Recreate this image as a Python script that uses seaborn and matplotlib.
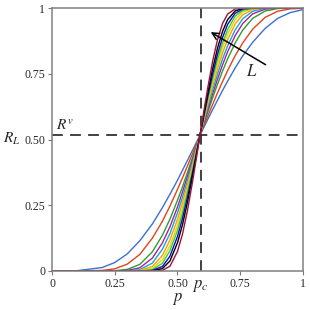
import numpy as np
import pandas as pd
import matplotlib
matplotlib.use("Agg")
import matplotlib.pyplot as plt
import seaborn as sns

# ------------------------------------------------------------
# Data (R_L vs p, one curve per L)
# ------------------------------------------------------------
p = [0.00, 0.10, 0.20, 0.25, 0.30, 0.35, 0.40, 0.44, 0.47, 0.50, 0.52, 0.54, 0.56, 0.575,
     0.59, 0.605, 0.62, 0.64, 0.66, 0.68, 0.70, 0.73, 0.76, 0.80, 0.85, 0.90, 0.95, 1.00]

c1 = [0.000, 0.001, 0.013, 0.032, 0.065, 0.115, 0.179, 0.241, 0.292, 0.345, 0.383, 0.421, 0.459, 0.488,
      0.517, 0.546, 0.575, 0.613, 0.650, 0.687, 0.722, 0.772, 0.818, 0.870, 0.923, 0.961, 0.983, 0.994]
c2 = [0.000, 0.000, 0.002, 0.008, 0.026, 0.063, 0.125, 0.189, 0.247, 0.310, 0.354, 0.400, 0.446, 0.482,
      0.517, 0.552, 0.587, 0.633, 0.678, 0.721, 0.762, 0.819, 0.867, 0.920, 0.965, 0.988, 0.997, 0.999]
c3 = [0, 0, 0, 0.001, 0.006, 0.025, 0.073, 0.136, 0.197, 0.269, 0.320, 0.375, 0.431, 0.474,
      0.517, 0.560, 0.602, 0.658, 0.711, 0.761, 0.807, 0.867, 0.916, 0.961, 0.989, 0.998, 1, 1]
c4 = [0, 0, 0, 0, 0.002, 0.012, 0.049, 0.107, 0.168, 0.243, 0.300, 0.360, 0.422, 0.469,
      0.517, 0.565, 0.611, 0.673, 0.731, 0.785, 0.834, 0.895, 0.941, 0.978, 0.996, 1, 1, 1]
c5 = [0, 0, 0, 0, 0, 0.005, 0.030, 0.083, 0.142, 0.221, 0.280, 0.344, 0.413, 0.464,
      0.517, 0.570, 0.620, 0.688, 0.750, 0.807, 0.856, 0.917, 0.959, 0.988, 0.999, 1, 1, 1]
c6 = [0, 0, 0, 0, 0, 0.002, 0.017, 0.059, 0.118, 0.196, 0.260, 0.329, 0.403, 0.460,
      0.517, 0.575, 0.632, 0.703, 0.770, 0.830, 0.880, 0.939, 0.974, 0.995, 1, 1, 1, 1]
c7 = [0, 0, 0, 0, 0, 0, 0.009, 0.043, 0.095, 0.174, 0.240, 0.314, 0.393, 0.455,
      0.517, 0.579, 0.640, 0.717, 0.788, 0.850, 0.901, 0.955, 0.985, 0.998, 1, 1, 1, 1]
c8 = [0, 0, 0, 0, 0, 0, 0.005, 0.029, 0.077, 0.154, 0.221, 0.299, 0.384, 0.450,
      0.517, 0.584, 0.650, 0.732, 0.806, 0.868, 0.918, 0.969, 0.991, 0.999, 1, 1, 1, 1]
c9 = [0, 0, 0, 0, 0, 0, 0.002, 0.017, 0.056, 0.131, 0.200, 0.282, 0.373, 0.444,
      0.517, 0.589, 0.660, 0.748, 0.826, 0.889, 0.938, 0.980, 0.996, 1, 1, 1, 1, 1]
c10 = [0, 0, 0, 0, 0, 0, 0, 0.009, 0.038, 0.107, 0.176, 0.262, 0.360, 0.438,
       0.517, 0.596, 0.673, 0.768, 0.849, 0.912, 0.956, 0.989, 0.999, 1, 1, 1, 1, 1]
c11 = [0, 0, 0, 0, 0, 0, 0, 0.002, 0.018, 0.074, 0.140, 0.231, 0.339, 0.427,
       0.517, 0.607, 0.693, 0.797, 0.881, 0.942, 0.977, 0.997, 1, 1, 1, 1, 1, 1]

curves = [c1, c2, c3, c4, c5, c6, c7, c8, c9, c10, c11]
colors = ["#3b6fd6", "#e0441c", "#2e9e2e", "#a023a8", "#1aa5d6", "#f5a300",
          "#e8d21a", "#3fcf20", "#0a0ad0", "#000000", "#a0103c"]

p_c = 0.5927
R_nu = 0.517
ticks = [0, 0.25, 0.5, 0.75, 1]
tick_labels = ["0", "0.25", "0.50", "0.75", "1"]

df = pd.concat([pd.DataFrame({"p": p, "R": c, "curve": i}) for i, c in enumerate(curves)],
               ignore_index=True)

# ------------------------------------------------------------
# Figure
# ------------------------------------------------------------
sns.set_style("ticks")
plt.rcParams["font.family"] = ["Liberation Serif", "DejaVu Serif"]
plt.rcParams["mathtext.fontset"] = "stix"

fig = plt.figure(figsize=(3.1, 3.1), dpi=100)
ax = fig.add_axes([0.168, 0.126, 0.809, 0.848])

sns.lineplot(data=df, x="p", y="R", hue="curve", palette=colors, legend=False,
             linewidth=1.0, ax=ax)

ax.axvline(p_c, color="#333333", lw=1.3, ls=(0, (6, 4)), zorder=0)
ax.axhline(R_nu, color="#333333", lw=1.3, ls=(0, (6, 4)), zorder=0)

ax.set_xlim(0, 1)
ax.set_ylim(0, 1)
ax.set_xticks(ticks)
ax.set_xticklabels(tick_labels)
ax.set_yticks(ticks)
ax.set_yticklabels(tick_labels)
ax.tick_params(labelsize=8.5, length=3, width=0.8, color="#777777", pad=2)

for s in ax.spines.values():
    s.set_color("#808080")
    s.set_linewidth(1.1)

ax.set_xlabel(r"$p$", fontsize=12)
ax.xaxis.set_label_coords(0.5, -0.075)
ax.set_ylabel(r"$R_L$", fontsize=11, rotation=0)
ax.yaxis.set_label_coords(-0.16, 0.47)

ax.text(p_c, -0.025, r"$p_c$", fontsize=12, ha="center", va="top")
ax.text(0.015, R_nu + 0.01, r"$R^v$", fontsize=11, ha="left", va="bottom")

ax.annotate("", xy=(0.623, 0.914), xytext=(0.861, 0.779),
            arrowprops=dict(arrowstyle="->", color="black", lw=1.1, mutation_scale=12))
ax.text(0.796, 0.758, r"$L$", fontsize=12, ha="center", va="center")

fig.savefig("out.png", dpi=100)
